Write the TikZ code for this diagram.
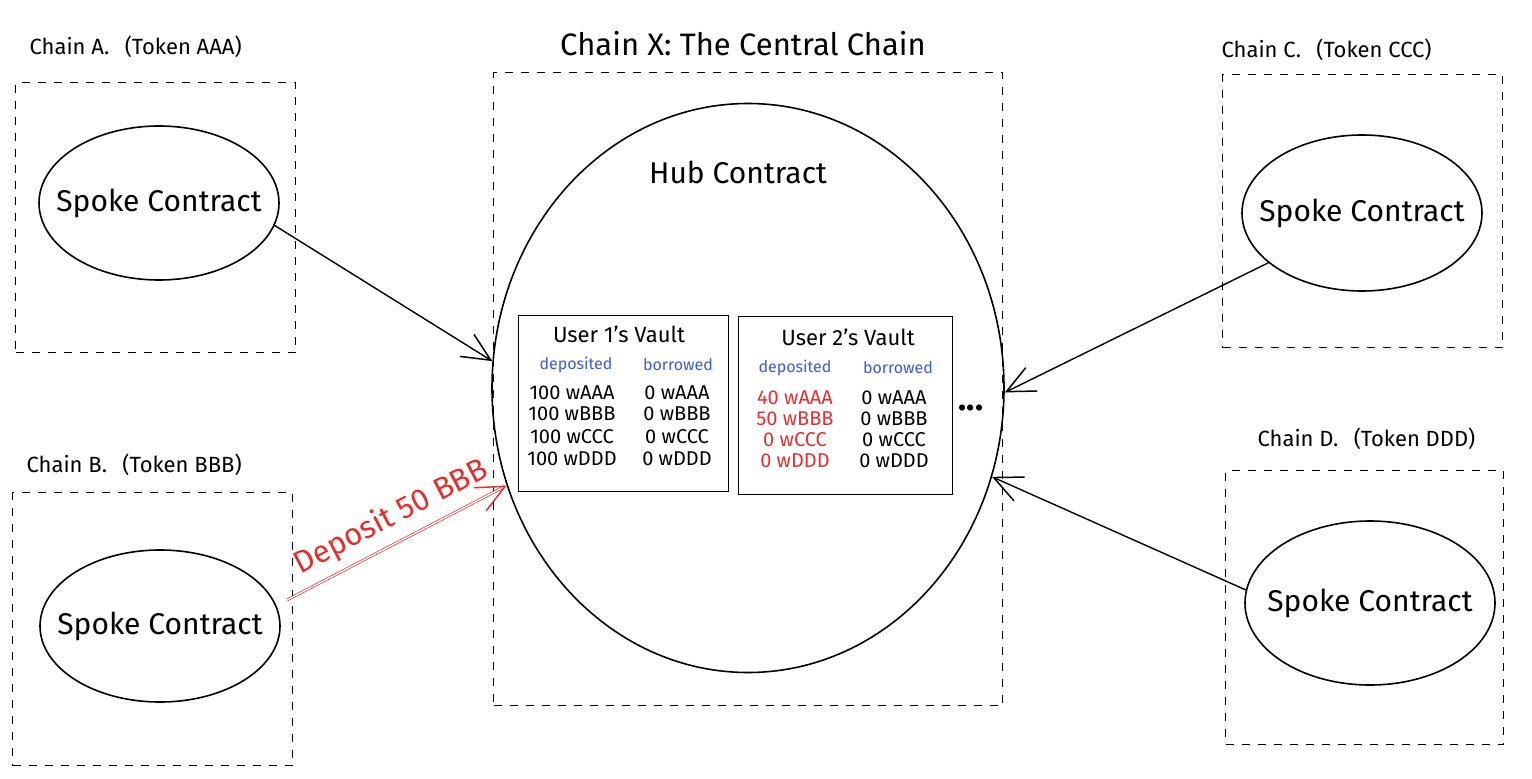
\documentclass[tikz,border=0pt]{standalone}
\usepackage{fontspec}
\setmainfont{Fira Sans}
\usetikzlibrary{shapes.geometric, arrows.meta, positioning}
\definecolor{inkred}{HTML}{E03131}
\definecolor{inkblue}{HTML}{3B5BDB}

\begin{document}
\begin{tikzpicture}[x=1pt,y=-1pt,
    chainbox/.style={draw,dash pattern=on 8pt off 8pt,line width=1.4pt,anchor=north west},
    spoke/.style={ellipse,draw,line width=1.6pt,minimum width=240pt,minimum height=154pt},
    spoketxt/.style={font=\fontsize{30}{32}\selectfont},
    chainlbl/.style={anchor=west,font=\fontsize{22}{24}\selectfont},
    vault/.style={rectangle,draw,line width=1.4pt,anchor=north west},
    vtitle/.style={font=\fontsize{22}{24}\selectfont},
    amt/.style={font=\fontsize{20}{22}\selectfont},
    col/.style={text=inkblue,font=\fontsize{16}{18}\selectfont},
    link/.style={-{Straight Barb[length=28pt,width=26pt,line width=1.5pt]},line width=1.4pt}]
    \useasboundingbox (0,0) rectangle (1532,779);

    % Chain X: hub
    \node[chainbox,minimum width=509pt,minimum height=633pt] (chainX) at (493,72) {};
    \node[font=\fontsize{31}{33}\selectfont] (titleX) at (743,44) {Chain X: The Central Chain};
    \node[ellipse,draw,line width=1.6pt,minimum width=512pt,minimum height=569pt] (hub) at (748,388) {};
    \node[spoketxt] (hubname) at (738,172) {Hub Contract};

    % Vaults
    \node[vault,minimum width=210pt,minimum height=176pt] (vault1) at (518,315) {};
    \node[vtitle] (v1title) at (619,334) {User 1's Vault};
    \node[col] (v1dep) at (576,365) {deposited};
    \node[col] (v1bor) at (678,365) {borrowed};
    \foreach \tok/\y [count=\i] in {AAA/393,BBB/414,CCC/437,DDD/459} {
        \node[amt] (v1d\i) at (572,\y) {100 w\tok};
        \node[amt] (v1b\i) at (677,\y) {0 w\tok};
    }

    \node[vault,minimum width=214pt,minimum height=178pt] (vault2) at (738,316) {};
    \node[vtitle] (v2title) at (848,337) {User 2's Vault};
    \node[col] (v2dep) at (795,368) {deposited};
    \node[col] (v2bor) at (898,368) {borrowed};
    \foreach \n/\tok/\y [count=\i] in {40/AAA/398,50/BBB/419,0/CCC/440,0/DDD/461} {
        \node[amt,text=inkred] (v2d\i) at (795,\y) {\n\ w\tok};
        \node[amt] (v2b\i) at (894,\y) {0 w\tok};
    }
    \node[font=\bfseries\fontsize{34}{36}\selectfont,anchor=base] (more) at (971,410) {...};

    % Spoke chains
    \node[chainbox,minimum width=280pt,minimum height=270pt] (chainA) at (15,82) {};
    \node[chainlbl] (lblA) at (26,47) {Chain A.\hspace{0.7em}(Token AAA)};
    \node[spoke] (spokeA) at (159,203) {};
    \node[spoketxt] (txtA) at (spokeA) {Spoke Contract};

    \node[chainbox,minimum width=280pt,minimum height=273pt] (chainB) at (12,492) {};
    \node[chainlbl] (lblB) at (23,465) {Chain B.\hspace{0.7em}(Token BBB)};
    \node[spoke,minimum height=152pt] (spokeB) at (160,626) {};
    \node[spoketxt] (txtB) at (spokeB) {Spoke Contract};

    \node[chainbox,minimum width=280pt,minimum height=273pt] (chainC) at (1222,74) {};
    \node[chainlbl] (lblC) at (1218,50) {Chain C.\hspace{0.7em}(Token CCC)};
    \node[spoke,minimum height=156pt] (spokeC) at (1362,213) {};
    \node[spoketxt] (txtC) at (spokeC) {Spoke Contract};

    \node[chainbox,minimum width=278pt,minimum height=274pt] (chainD) at (1225,470) {};
    \node[chainlbl] (lblD) at (1254,439) {Chain D.\hspace{0.7em}(Token DDD)};
    \node[spoke,minimum width=250pt,minimum height=164pt] (spokeD) at (1370,603) {};
    \node[spoketxt] (txtD) at (spokeD) {Spoke Contract};

    % Connectors
    \draw[link] (spokeA.-11) -- (hub.174);
    \draw[link] (spokeC.208) -- (hub.-1);
    \draw[link] (spokeD.174) -- (hub.-20);
    \draw[link,draw=inkred,line width=0.7pt,double,double distance=1.4pt,shorten <=12pt] (spokeB.10) -- node[pos=0.55,sloped,above=6pt,text=inkred,font=\fontsize{31}{33}\selectfont] (deposit) {Deposit 50 BBB} (hub.202);
\end{tikzpicture}
\end{document}
